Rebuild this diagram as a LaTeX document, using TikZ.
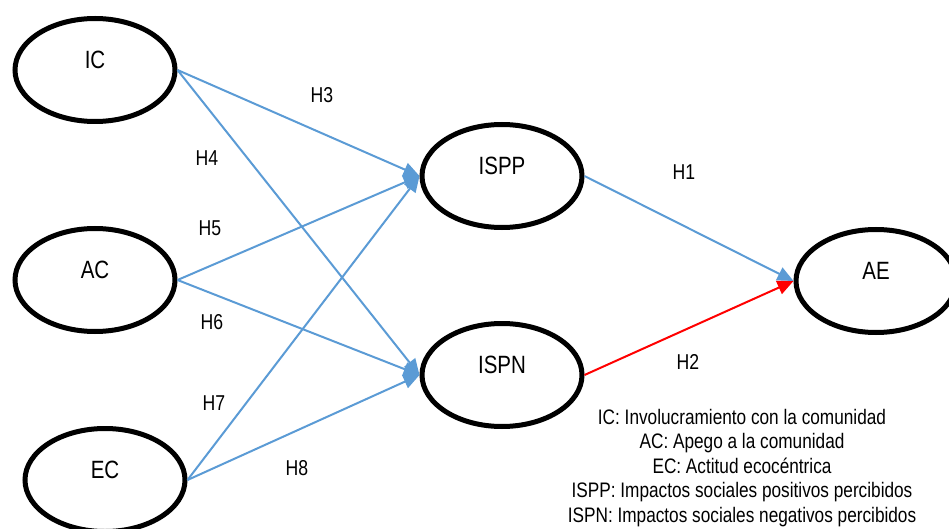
\documentclass[tikz,border=0pt]{standalone}
\usepackage{fontspec}
\setmainfont{Liberation Sans}[FakeStretch=0.82]
\usetikzlibrary{shapes.geometric,arrows.meta}
\definecolor{linkblue}{RGB}{91,155,213}
\begin{document}
\begin{tikzpicture}[x=1pt,y=-1pt,
    construct/.style={ellipse, draw=black, line width=5pt, minimum width=160pt, minimum height=103pt,
        inner sep=0pt, text height=18pt, text depth=21.5pt, font=\fontsize{25}{29}\selectfont},
    hyp/.style={font=\fontsize{21.5}{25}\selectfont},
    link/.style={draw=linkblue, line width=2pt, -{Triangle[length=16pt,width=14pt]}},
    neglink/.style={link, draw=red}]
        \useasboundingbox (0,0) rectangle (949,529);

        % constructs
        \node[construct] (IC) at (95,70) {IC};
        \node[construct] (AC) at (95,280) {AC};
        \node[construct] (EC) at (105,480) {EC};
        \node[construct] (ISPP) at (502,176) {ISPP};
        \node[construct] (ISPN) at (502,375) {ISPN};
        \node[construct] (AE) at (876,281) {AE};

        % hypotheses
        \draw[link] (IC.east) -- (ISPP.west);
        \draw[link] (IC.east) -- (ISPN.west);
        \draw[link] (AC.east) -- (ISPP.west);
        \draw[link] (AC.east) -- (ISPN.west);
        \draw[link] (EC.east) -- (ISPP.west);
        \draw[link] (EC.east) -- (ISPN.west);
        \draw[link] (ISPP.east) -- (AE.west);
        \draw[neglink] (ISPN.east) -- (AE.west);

        \node[hyp] (h3) at (322,95) {H3};
        \node[hyp] (h4) at (207,158) {H4};
        \node[hyp] (h5) at (210,228) {H5};
        \node[hyp] (h6) at (212,322) {H6};
        \node[hyp] (h7) at (214,403) {H7};
        \node[hyp] (h8) at (297,468) {H8};
        \node[hyp] (h1) at (684,172) {H1};
        \node[hyp] (h2) at (688,362) {H2};

        % legend
        \node[align=center, font=\fontsize{21}{24.5}\selectfont] (legend) at (742,468)
            {IC: Involucramiento con la comunidad\\
             AC: Apego a la comunidad\\
             EC: Actitud ecocéntrica\\
             ISPP: Impactos sociales positivos percibidos\\
             ISPN: Impactos sociales negativos percibidos};
    \end{tikzpicture}
\end{document}
